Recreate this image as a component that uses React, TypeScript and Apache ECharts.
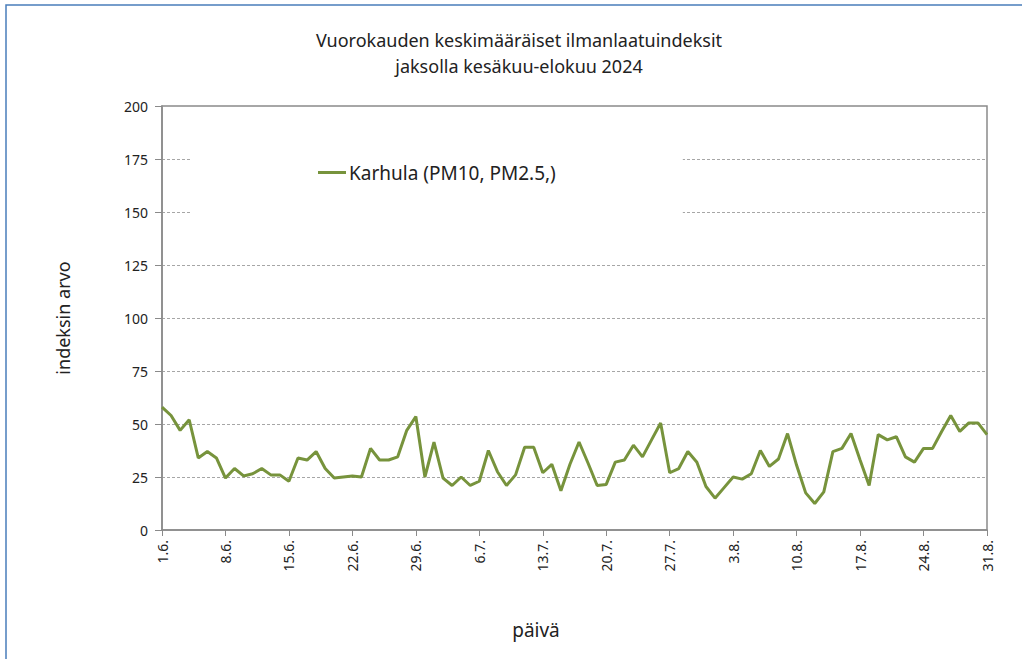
import React, { useEffect, useRef } from "react";
import * as echarts from "echarts";

const titleLines = ["Vuorokauden keskimääräiset ilmanlaatuindeksit", "jaksolla kesäkuu-elokuu 2024"];
const seriesName = "Karhula (PM10, PM2.5,)";
const months = [6, 7, 8];
const monthDays = [30, 31, 31];
const categories: string[] = [];
months.forEach((m, k) => {
  for (let d = 1; d <= monthDays[k]; d++) categories.push(`${d}.${m}.`);
});
const values = [
  58, 54, 47, 52, 34, 37, 34, 24.5, 29, 25.5, 26.5, 29, 26, 26, 23, 34, 33, 37, 29, 24.5,
  25, 25.5, 25, 38.5, 33, 33, 34.5, 47, 53.5, 25, 41.5, 24.5, 21, 25, 21, 23, 37.5, 27.5,
  21, 26, 39, 39, 27, 31, 18.5, 31, 41.5, 31.5, 21, 21.5, 32, 33, 40, 34.5, 42.5, 50.5, 27,
  29, 37, 32, 20.5, 15, 20, 25, 24, 26.5, 37.5, 30, 33.5, 45.5, 30.5, 17.5, 12.5, 18, 37,
  38.5, 45.5, 33, 21, 45, 42.5, 44, 34.5, 32, 38.5, 38.5, 46.5, 54, 46.5, 50.5, 50.5, 45,
];
const yMin = 0;
const yMax = 200;
const yStep = 25;
const xLabel = "päivä";
const yLabel = "indeksin arvo";

const FONT = "'Noto Sans', 'Open Sans', sans-serif";

export default function App() {
  const ref = useRef<HTMLDivElement>(null);
  useEffect(() => {
    document.body.style.margin = "0";
    const chart = echarts.init(ref.current!, null, { renderer: "svg" });
    chart.setOption({
      animation: false,
      backgroundColor: "#ffffff",
      title: {
        text: titleLines.join("\n"),
        left: 514,
        textAlign: "center",
        top: 22,
        textStyle: { fontFamily: FONT, fontSize: 18, fontWeight: "normal", color: "#222", lineHeight: 26 },
      },
      graphic: [
        {
          type: "rect",
          shape: { x: 6, y: 5, width: 1100, height: 800 },
          style: { fill: "none", stroke: "#4A7EBB", lineWidth: 1.5 },
          silent: true,
        },
        {
          type: "text",
          x: 536,
          y: 630,
          style: {
            text: xLabel,
            fontFamily: FONT,
            fontSize: 19,
            fill: "#222",
            align: "center",
            verticalAlign: "middle",
          },
          silent: true,
        },
      ],
      legend: {
        left: 190,
        top: 133,
        padding: [30, 127, 38, 128],
        backgroundColor: "#ffffff",
        icon: "rect",
        itemWidth: 28,
        itemHeight: 3,
        itemGap: 4,
        textStyle: { fontFamily: FONT, fontSize: 19, color: "#222", padding: [0, 0, 0, -2] },
        data: [seriesName],
      },
      grid: {
        left: 162,
        right: 35,
        top: 106,
        bottom: 129,
        show: true,
        borderColor: "#8a8a8a",
        borderWidth: 1.5,
        backgroundColor: "transparent",
      },
      xAxis: {
        type: "category",
        data: categories,
        boundaryGap: false,
        axisLine: { lineStyle: { color: "#8a8a8a", width: 1.5 } },
        axisTick: { show: true, interval: 6, length: 6, lineStyle: { color: "#8a8a8a" } },
        axisLabel: {
          interval: 6,
          rotate: 90,
          fontFamily: FONT,
          fontSize: 14,
          color: "#222",
          margin: 10,
        },
        splitLine: { show: false },
      },
      yAxis: {
        type: "value",
        min: yMin,
        max: yMax,
        interval: yStep,
        name: yLabel,
        nameLocation: "middle",
        nameGap: 90,
        nameTextStyle: { fontFamily: FONT, fontSize: 18, color: "#222" },
        axisLine: { show: true, lineStyle: { color: "#8a8a8a", width: 1.5 } },
        axisTick: { show: true, length: 7, lineStyle: { color: "#8a8a8a" } },
        axisLabel: { fontFamily: FONT, fontSize: 14, color: "#222", margin: 14 },
        splitLine: { show: true, lineStyle: { color: "#a6a6a6", type: [3, 2], width: 1 } },
      },
      series: [
        {
          name: seriesName,
          type: "line",
          data: values,
          showSymbol: false,
          symbol: "none",
          lineStyle: { color: "#77933C", width: 3 },
          itemStyle: { color: "#77933C" },
          z: 3,
        },
      ],
    });
    return () => chart.dispose();
  }, []);
  return <div ref={ref} style={{ width: 1022, height: 659 }} />;
}
